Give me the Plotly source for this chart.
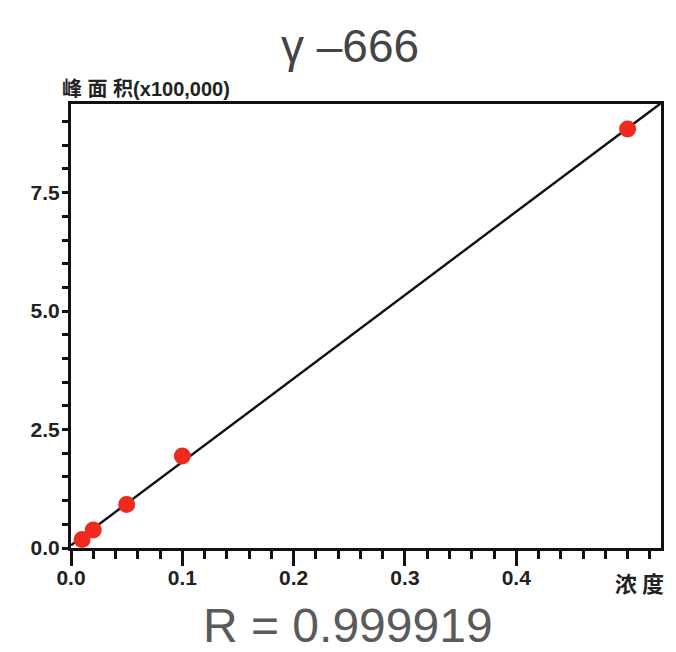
import numpy as np
import plotly.graph_objects as go

# Calibration data: concentration vs. peak area (x100,000)
concentration = [0.01, 0.02, 0.05, 0.10, 0.50]
peak_area = [0.18, 0.38, 0.92, 1.94, 8.84]

x_tick_vals = [0.0, 0.1, 0.2, 0.3, 0.4]
x_tick_text = ["0.0", "0.1", "0.2", "0.3", "0.4"]
y_tick_vals = [0.0, 2.5, 5.0, 7.5]
y_tick_text = ["0.0", "2.5", "5.0", "7.5"]

title_text = "γ –666"
y_title = "峰 面 积(x100,000)"
x_title = "浓 度"
r_text = "R = 0.999919"

X_MAX, Y_MAX = 0.53, 9.37

# least-squares calibration line
slope, intercept = np.polyfit(concentration, peak_area, 1)
fit_x = np.array([0.0, X_MAX])
fit_y = slope * fit_x + intercept

TICK_FAMILY = "Liberation Sans Narrow, Liberation Sans, Arial"
tick_font = dict(family=TICK_FAMILY, size=21, color="#222", weight="bold")

fig = go.Figure()
fig.add_trace(go.Scatter(x=fit_x, y=fit_y, mode="lines",
                         line=dict(color="#111", width=2.4), hoverinfo="skip"))
fig.add_trace(go.Scatter(x=concentration, y=peak_area, mode="markers",
                         marker=dict(color="#ee2a1e", size=17, line=dict(width=0))))

fig.update_layout(
    width=676, height=652,
    margin=dict(l=71, r=13, t=104, b=104),
    paper_bgcolor="white", plot_bgcolor="white",
    showlegend=False,
    xaxis=dict(range=[0, X_MAX], tickvals=x_tick_vals, ticktext=x_tick_text,
               ticks="outside", ticklen=15, tickwidth=2.5, tickcolor="#111",
               ticklabelstandoff=-6,
               minor=dict(dtick=0.02, tick0=0, ticks="outside", ticklen=8,
                          tickwidth=2.5, tickcolor="#111"),
               showline=True, linecolor="#111", linewidth=3, mirror=True,
               showgrid=False, zeroline=False, tickfont=tick_font),
    yaxis=dict(range=[0, Y_MAX], tickvals=y_tick_vals, ticktext=y_tick_text,
               ticks="outside", ticklen=6, tickwidth=2.5, tickcolor="#111",
               ticklabelstandoff=-2,
               minor=dict(dtick=0.5, tick0=0, ticks="outside", ticklen=6,
                          tickwidth=2.5, tickcolor="#111"),
               showline=True, linecolor="#111", linewidth=3, mirror=True,
               showgrid=False, zeroline=False, tickfont=tick_font),
    annotations=[
        dict(text=title_text, x=(351 - 71) / 592, y=1 + (104 - 46) / 444,
             xref="paper", yref="paper", xanchor="center", yanchor="middle",
             showarrow=False, font=dict(family="Liberation Sans", size=46, color="#444")),
        dict(text=y_title, x=(146 - 71) / 592, y=1.0, xref="paper", yref="paper",
             xanchor="center", yanchor="bottom", yshift=2, showarrow=False,
             font=dict(family="Liberation Sans, Noto Sans CJK SC", size=20, color="#222",
                       weight="bold")),
        dict(text=x_title, x=0.511, y=0, xref="x", yref="paper",
             xanchor="center", yanchor="top", yshift=-16, showarrow=False,
             font=dict(family="Noto Sans CJK SC", size=22, color="#222", weight="bold")),
        dict(text=r_text, x=(349 - 71) / 592, y=-(625 - 548) / 444, xref="paper", yref="paper",
             xanchor="center", yanchor="middle", showarrow=False,
             font=dict(family="Liberation Sans", size=48, color="#5a5a5a")),
    ],
)

fig.write_html("out.html")
